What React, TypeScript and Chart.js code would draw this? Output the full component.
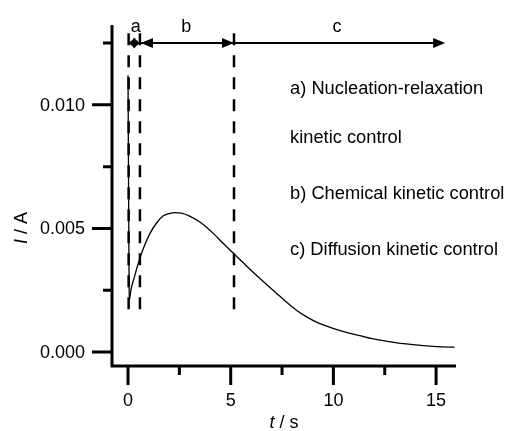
import React, { useEffect, useRef } from "react";
import { Chart, registerables } from "chart.js";

Chart.register(...registerables);

// ---- data ----
const timeS = [
  0, 0.01, 0.02, 0.03, 0.04, 0.05, 0.06, 0.15, 0.3, 0.45, 0.6, 0.8, 1.07, 1.4, 1.7,
  2.0, 2.3, 2.6, 3.0, 3.5, 3.85, 4.2, 4.63, 5.0, 5.2, 5.6, 6.0, 6.6, 7.2, 7.7, 8.2,
  8.7, 9.2, 9.8, 10.5, 11.4, 12.2, 13.1, 14.0, 14.7, 15.3, 15.9,
];
const currentA = [
  0.0112, 0.0096, 0.0078, 0.006, 0.0044, 0.0031, 0.0021, 0.00255, 0.003, 0.00345, 0.00385,
  0.0043, 0.0048, 0.00523, 0.0055, 0.0056, 0.00564, 0.00562, 0.0055, 0.00526, 0.00503,
  0.00476, 0.0044, 0.0041, 0.00394, 0.00362, 0.0033, 0.00284, 0.0024, 0.00203, 0.00169,
  0.00142, 0.0012, 0.00101, 0.00083, 0.00064, 0.00049, 0.00037, 0.00029, 0.00024, 0.00021,
  0.0002,
];

const boundaryT = [0.03, 0.58, 5.16];
const boundaryTop = 0.0129;
const boundaryBottom = 0.00157;
const arrowY = 0.0125;
const arrowEndT = 15.44;
const regionLabels = ["a", "b", "c"];
const regionLabelT = [0.38, 2.83, 10.18];
const regionLabelY = 0.01313;

const xMajorTicks = [0, 5, 10, 15];
const xMinorTicks = [2.5, 7.5, 12.5];
const yMajorTicks = [0, 0.005, 0.01];
const yMajorLabels = ["0.000", "0.005", "0.010"];
const yMinorTicks = [0.0025, 0.0075, 0.0125];

const noteLines = [
  "a) Nucleation-relaxation",
  "kinetic control",
  "b) Chemical kinetic control",
  "c) Diffusion kinetic control",
];
const noteT = 7.89;
const noteY = [0.01065, 0.00868, 0.00641, 0.00413];

const FONT = "'Liberation Sans', Arial, sans-serif";

function drawArrowHead(ctx: CanvasRenderingContext2D, tipX: number, y: number, dir: number, len: number, half: number) {
  ctx.beginPath();
  ctx.moveTo(tipX, y);
  ctx.lineTo(tipX - dir * len, y - half);
  ctx.lineTo(tipX - dir * len, y + half);
  ctx.closePath();
  ctx.fill();
}

const decorPlugin = {
  id: "decor",
  afterDraw(chart: any) {
    const ctx: CanvasRenderingContext2D = chart.ctx;
    const xs = chart.scales.x;
    const ys = chart.scales.y;
    const { left, right, top, bottom } = chart.chartArea;
    ctx.save();
    ctx.strokeStyle = "#000";
    ctx.fillStyle = "#000";

    // spines
    ctx.lineWidth = 3;
    ctx.lineCap = "butt";
    ctx.beginPath();
    ctx.moveTo(left, top);
    ctx.lineTo(left, bottom + 1.5);
    ctx.moveTo(left - 1.5, bottom);
    ctx.lineTo(right, bottom);
    ctx.stroke();

    // y ticks
    ctx.beginPath();
    yMajorTicks.forEach((v) => {
      const y = ys.getPixelForValue(v);
      ctx.moveTo(left - 20, y);
      ctx.lineTo(left, y);
    });
    yMinorTicks.forEach((v) => {
      const y = ys.getPixelForValue(v);
      ctx.moveTo(left - 9, y);
      ctx.lineTo(left, y);
    });
    // x ticks
    xMajorTicks.forEach((v) => {
      const x = xs.getPixelForValue(v);
      ctx.moveTo(x, bottom);
      ctx.lineTo(x, bottom + 19);
    });
    xMinorTicks.forEach((v) => {
      const x = xs.getPixelForValue(v);
      ctx.moveTo(x, bottom);
      ctx.lineTo(x, bottom + 9);
    });
    ctx.stroke();

    // tick labels
    ctx.font = `18px ${FONT}`;
    ctx.textAlign = "right";
    ctx.textBaseline = "middle";
    yMajorTicks.forEach((v, i) => {
      ctx.fillText(yMajorLabels[i], left - 27, ys.getPixelForValue(v) + 1);
    });
    ctx.textAlign = "center";
    ctx.textBaseline = "top";
    xMajorTicks.forEach((v) => {
      ctx.fillText(String(v), xs.getPixelForValue(v), bottom + 26);
    });

    // axis titles (mixed italic)
    const drawMixed = (parts: [string, boolean][], cx: number, cy: number) => {
      let total = 0;
      const widths = parts.map(([t, it]) => {
        ctx.font = `${it ? "italic " : ""}18px ${FONT}`;
        const w = ctx.measureText(t).width;
        total += w;
        return w;
      });
      let x = cx - total / 2;
      ctx.textAlign = "left";
      ctx.textBaseline = "middle";
      parts.forEach(([t, it], i) => {
        ctx.font = `${it ? "italic " : ""}18px ${FONT}`;
        ctx.fillText(t, x, cy);
        x += widths[i];
      });
    };
    drawMixed([["t", true], [" / s", false]], (left + right) / 2, bottom + 57);
    ctx.save();
    ctx.translate(22, 228);
    ctx.rotate(-Math.PI / 2);
    drawMixed([["I", true], [" / A", false]], 0, 0);
    ctx.restore();

    // region arrows
    const ay = ys.getPixelForValue(arrowY);
    const bx = boundaryT.map((t) => xs.getPixelForValue(t));
    const ex = xs.getPixelForValue(arrowEndT);
    ctx.lineWidth = 2;
    ctx.beginPath();
    ctx.moveTo(bx[0], ay);
    ctx.lineTo(ex - 4, ay);
    ctx.stroke();
    // a: double head
    drawArrowHead(ctx, bx[0], ay, -1, 6.5, 5.5);
    drawArrowHead(ctx, bx[1], ay, 1, 6.5, 5.5);
    // b
    drawArrowHead(ctx, bx[1] + 1, ay, -1, 12, 5);
    drawArrowHead(ctx, bx[2], ay, 1, 12, 5);
    // c
    drawArrowHead(ctx, ex, ay, 1, 12, 5);

    // region labels
    ctx.font = `18px ${FONT}`;
    ctx.textAlign = "center";
    ctx.textBaseline = "middle";
    regionLabels.forEach((lab, i) => {
      ctx.fillText(lab, xs.getPixelForValue(regionLabelT[i]), ys.getPixelForValue(regionLabelY));
    });

    // notes
    ctx.font = `18.3px ${FONT}`;
    ctx.textAlign = "left";
    noteLines.forEach((line, i) => {
      ctx.fillText(line, xs.getPixelForValue(noteT), ys.getPixelForValue(noteY[i]));
    });

    ctx.restore();
  },
};

export default function App() {
  const ref = useRef<HTMLCanvasElement | null>(null);
  useEffect(() => {
    document.body.style.margin = "0";
    const canvas = ref.current!;
    const curve = timeS.map((t, i) => ({ x: t, y: currentA[i] }));
    const dashed = boundaryT.map((t) => ({
      data: [
        { x: t, y: boundaryTop },
        { x: t, y: boundaryBottom },
      ],
      showLine: true,
      borderColor: "#000",
      borderWidth: 2.5,
      borderDash: [12, 10],
      pointRadius: 0,
      clip: false as any,
    }));
    const chart = new Chart(canvas, {
      type: "scatter",
      data: {
        datasets: [
          {
            data: curve,
            showLine: true,
            borderColor: "#000",
            borderWidth: 1.3,
            pointRadius: 0,
            cubicInterpolationMode: "monotone",
            clip: false as any,
          },
          ...dashed,
        ],
      },
      options: {
        animation: false,
        responsive: false,
        devicePixelRatio: 1,
        layout: { padding: { left: 112, right: 52, top: 25, bottom: 65 } },
        plugins: { legend: { display: false }, tooltip: { enabled: false } },
        scales: {
          x: { type: "linear", min: -0.78, max: 15.97, display: false },
          y: { type: "linear", min: -0.000565, max: 0.01323, display: false },
        },
      },
      plugins: [decorPlugin],
    });
    return () => chart.destroy();
  }, []);
  return <canvas ref={ref} width={508} height={431} style={{ display: "block" }} />;
}
